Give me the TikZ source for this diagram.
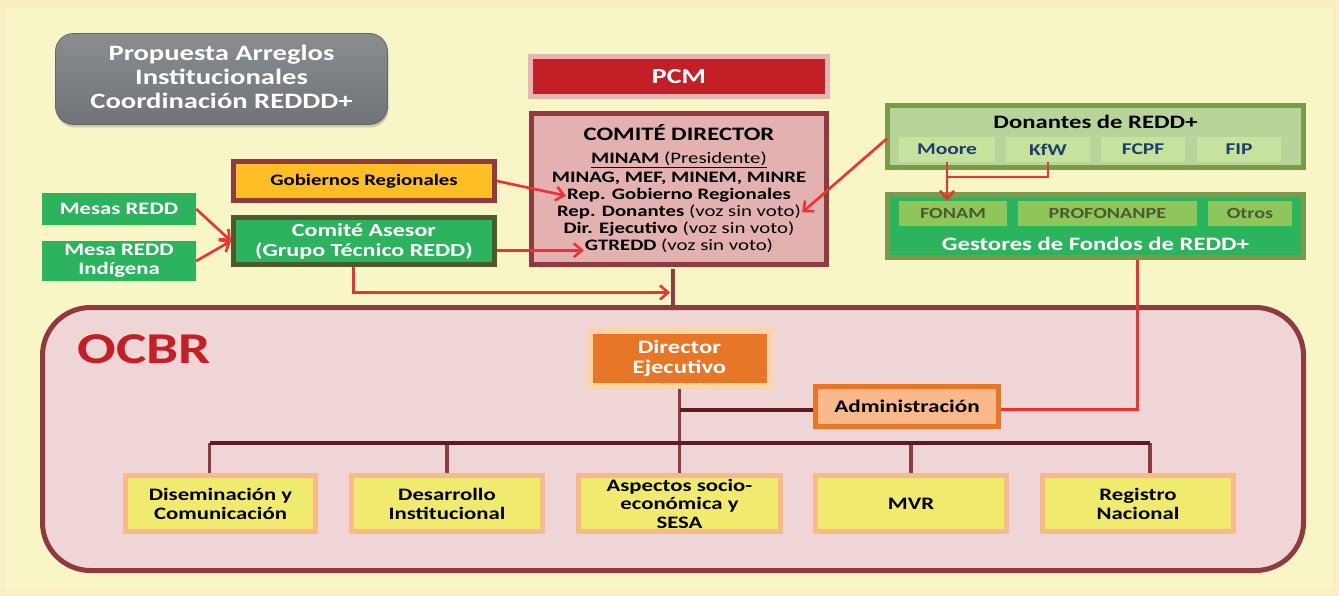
\documentclass[tikz,border=0pt]{standalone}
\usepackage{fontspec}
\setmainfont{Carlito}[FakeStretch=1.3]
\usetikzlibrary{arrows.meta,shadows,calc}
\definecolor{bgout}{HTML}{FCEEC4}
\definecolor{bgin}{HTML}{F8F6C6}
\definecolor{titletop}{HTML}{8A8D90}
\definecolor{titlebot}{HTML}{707377}
\definecolor{pcmred}{HTML}{C21F26}
\definecolor{pcmhalo}{HTML}{E8B5B5}
\definecolor{maroon}{HTML}{8E3A3E}
\definecolor{cdfill}{HTML}{E4B1B1}
\definecolor{gobfill}{HTML}{FCBD25}
\definecolor{rgreen}{HTML}{2CB35E}
\definecolor{olivedark}{HTML}{4D5B2C}
\definecolor{donfill}{HTML}{B7D59B}
\definecolor{donborder}{HTML}{7B9B4B}
\definecolor{donsub}{HTML}{C6E29C}
\definecolor{donblue}{HTML}{1F3D6E}
\definecolor{gestsub}{HTML}{8DC75B}
\definecolor{ocbrfill}{HTML}{EFD5D5}
\definecolor{ocbrred}{HTML}{C41E26}
\definecolor{dirorange}{HTML}{E87627}
\definecolor{dirhalo}{HTML}{FCD4A9}
\definecolor{adminfill}{HTML}{F9B98A}
\definecolor{unityellow}{HTML}{F0EB6E}
\definecolor{busdark}{HTML}{5B1C24}
\definecolor{arrred}{HTML}{EE3231}
\begin{document}
\begin{tikzpicture}[x=1pt,y=-1pt]
\tikzset{
  fs/.style 2 args={font=\bfseries\fontsize{#1}{#2}\selectfont},
  plain/.style={inner sep=0pt, align=center},
  unit/.style={plain, fill=unityellow, draw=adminfill, line width=5pt, minimum height=56pt, fs={17.5}{19}},
  donsubbox/.style={plain, fill=donsub, minimum height=25pt, text=donblue, fs={16.5}{18}},
  gestsubbox/.style={plain, fill=gestsub, minimum height=25pt, text=olivedark, fs={15.5}{18}},
  greenbox/.style={plain, fill=rgreen, text=white, fs={17.5}{19}},
  cdline/.style={anchor=base, inner sep=1pt, fs={16}{18}},
  redarr/.style={draw=arrred, line width=2.6pt, -{Straight Barb[length=8pt,width=14pt]}},
  redline/.style={draw=arrred, line width=2.6pt},
  bus/.style={draw=busdark, line width=4pt},
  drop/.style={draw=maroon, line width=3.5pt},
}
\useasboundingbox (0,0) rectangle (1339,596);
\fill[bgout] (0,0) rectangle (1339,596);
\fill[bgin] (6,7) rectangle (1333,590);

% title
\node[plain, rounded corners=18pt, top color=titletop, bottom color=titlebot, draw=titlebot!90!black, line width=0.8pt,
      minimum width=332pt, minimum height=91pt,
      drop shadow={opacity=0.35, shadow xshift=1pt, shadow yshift=-3pt}] (title) at (221.5,79) {};
\node[plain, text=white, fs={22}{24}] (titletext) at (221.5,76.5)
      {Propuesta Arreglos\\Institucionales\\Coordinación REDDD+};

% OCBR frame
\node[plain, fill=ocbrfill, draw=maroon, line width=5pt, rounded corners=48pt,
      minimum width=1261pt, minimum height=263pt] (ocbr) at (673,439) {};
\node[plain, text=ocbrred, fs={44}{48}] (ocbrlabel) at (144,349) {OCBR};

% PCM and committee
\node[plain, fill=pcmred, draw=pcmhalo, line width=5pt, minimum width=297pt, minimum height=40pt,
      text=white, fs={21.5}{24}] (pcm) at (679,76.5) {PCM};
\node[plain, fill=cdfill, draw=maroon, line width=5pt, minimum width=295pt, minimum height=151pt] (cd) at (679,189) {};
\node[cdline, fs={19}{20}] (cd0) at (679,141) {COMITÉ DIRECTOR};
\node[cdline] (cd1) at (679,164) {\underline{MINAM {\mdseries(Presidente)}}};
\node[cdline] (cd2) at (679,183) {MINAG, MEF, MINEM, MINRE};
\node[cdline] (cd3) at (679,200) {Rep. Gobierno Regionales};
\node[cdline] (cd4) at (679,217) {Rep. Donantes {\mdseries(voz sin voto)}};
\node[cdline] (cd5) at (679,234) {Dir. Ejecutivo {\mdseries(voz sin voto)}};
\node[cdline] (cd6) at (679,251) {GTREDD {\mdseries(voz sin voto)}};

% left side
\node[plain, fill=gobfill, draw=maroon, line width=5pt, minimum width=261pt, minimum height=39pt, fs={16}{18}] (gob) at (364,181) {Gobiernos Regionales};
\node[plain, fill=rgreen, draw=olivedark, line width=5pt, minimum width=261pt, minimum height=47pt, text=white, fs={18.5}{20}] (asesor) at (364,241) {Comité Asesor\\(Grupo Técnico REDD)};
\node[greenbox, minimum width=154pt, minimum height=32pt] (mesas) at (119,209) {Mesas REDD};
\node[greenbox, minimum width=154pt, minimum height=40pt] (mesaind) at (119,261) {Mesa REDD\\Indígena};

% donors
\node[plain, fill=donfill, draw=donborder, line width=5pt, minimum width=416pt, minimum height=62pt] (don) at (1095.5,136.5) {};
\node[plain, fs={19}{20}] (dontitle) at (1095.5,122) {Donantes de REDD+};
\node[donsubbox, minimum width=96pt] (moore) at (947,149.5) {Moore};
\node[donsubbox, minimum width=84pt] (kfw) at (1048,149.5) {KfW};
\node[donsubbox, minimum width=84pt] (fcpf) at (1143,149.5) {FCPF};
\node[donsubbox, minimum width=84pt] (fip) at (1239,149.5) {FIP};

% fund managers
\node[plain, fill=rgreen, draw=donborder, line width=5pt, minimum width=416pt, minimum height=63pt] (gest) at (1095.5,226) {};
\node[gestsubbox, minimum width=108pt] (fonam) at (953,213.5) {FONAM};
\node[gestsubbox, minimum width=179pt] (profo) at (1107.5,213.5) {PROFONANPE};
\node[gestsubbox, minimum width=84pt] (otros) at (1250,213.5) {Otros};
\node[plain, text=white, fs={19}{20}] (gesttitle) at (1095.5,244) {Gestores de Fondos de REDD+};

% OCBR content
\node[plain, fill=dirorange, draw=dirhalo, line width=6pt, minimum width=180pt, minimum height=55pt,
      text=white, fs={19}{20}] (dir) at (679.5,358) {Director\\Ejecutivo};
\node[plain, fill=adminfill, draw=dirorange, line width=5pt, minimum width=183pt, minimum height=40pt,
      fs={17.8}{19}] (admin) at (907,406.5) {Administración};
\node[unit, minimum width=190pt] (b1) at (220.5,503.5) {Diseminación y\\Comunicación};
\node[unit, minimum width=191pt] (b2) at (447,503.5) {Desarrollo\\Institucional};
\node[unit, minimum width=202pt, fs={17.5}{18.5}] (b3) at (679.5,503.5) {Aspectos socio-\\económica y\\SESA};
\node[unit, minimum width=191pt] (b4) at (911,503.5) {MVR};
\node[unit, minimum width=191pt] (b5) at (1138,503.5) {Registro\\Nacional};

% dark organisational lines
\coordinate (cdst) at ($(cd.south)+(-6,2.5)$);
\draw[drop] (cdst) -- (cdst |- ocbr.north);
\coordinate (d1) at ($(b1.north)+(-11,0)$);
\coordinate (d5) at ($(b5.north)+(12,0)$);
\coordinate (busl) at ($(d1)+(0,-30)$);
\coordinate (busr) at ($(d5)+(0,-30)$);
\draw[drop] (d1) -- (busl);
\draw[drop] (b2.north) -- (b2.north |- busl);
\draw[drop] (b4.north) -- (b4.north |- busl);
\draw[drop] (d5) -- (busr);
\draw[drop] (dir.south) -- (b3.north);
\draw[bus] (busl) -- (busr);
\draw[bus] ($(dir.south |- admin.west)+(0,3)$) -- ($(admin.west)+(0,3)$);

% red connectors
\draw[redarr] (mesas.east) -- (asesor.west);
\draw[redarr] (mesaind.east) -- (asesor.west);
\draw[redarr] (gob.east) -- (cd3.west);
\coordinate (gtin) at ($(cd6.west)+(0,4)$);
\draw[redarr] (asesor.east |- gtin) -- (gtin);
\coordinate (aso) at ($(asesor.south west)!0.46!(asesor.south east)$);
\coordinate (jn) at ($(cdst)+(-3,23)$);
\draw[redarr] (aso) |- (jn);
\draw[redarr] ($(don.west)+(2,2)$) -- (cd4.east);
\draw[redarr] (moore.south) -- (moore.south |- fonam.north);
\coordinate (kj) at ($(moore.south)+(0,15)$);
\draw[redline] (kfw.south) |- (kj);
\coordinate (gs) at ($(gest.south)+(42,0)$);
\draw[redline] ($(admin.east)+(0,3)$) -| (gs);
\end{tikzpicture}
\end{document}
